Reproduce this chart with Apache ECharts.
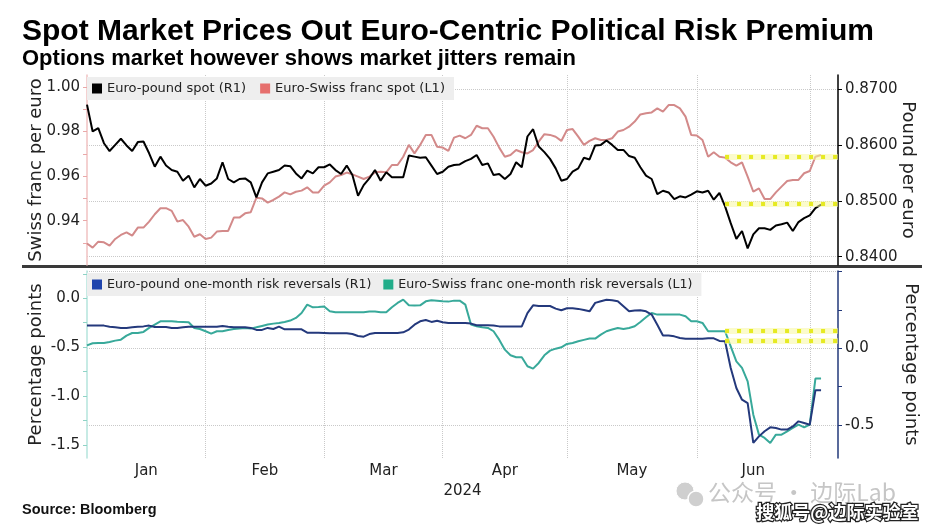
<!DOCTYPE html>
<html><head><meta charset="utf-8">
<script src="https://cdn.jsdelivr.net/npm/echarts@6/dist/echarts.min.js"></script>
<style>html,body{margin:0;padding:0;background:#fff}#c{width:936px;height:532px}</style>
</head><body><div id="c"></div>
<script>
// ---------- data ----------
const startDate = '2024-01-03';
const endDate = '2024-07-08';
const monthLabels = ['Jan','Feb','Mar','Apr','May','Jun'];
const yearLabel = '2024';

// Euro-pound spot (right axis, top panel)
const eurGbpSpot = [0.8672,0.8624,0.8630,0.8603,0.8589,0.8600,0.8611,0.8599,0.8589,0.8605,
 0.8606,0.8585,0.8561,0.8579,0.8563,0.8555,0.8552,0.8536,0.8545,0.8524,
 0.8539,0.8527,0.8531,0.8540,0.8569,0.8539,0.8533,0.8539,0.8540,0.8533,
 0.8506,0.8533,0.8549,0.8552,0.8555,0.8563,0.8562,0.8549,0.8540,0.8554,
 0.8549,0.8560,0.8560,0.8565,0.8555,0.8548,0.8563,0.8546,0.8509,0.8528,
 0.8540,0.8555,0.8536,0.8551,0.8542,0.8542,0.8542,0.8581,0.8579,0.8577,
 0.8578,0.8563,0.8548,0.8552,0.8561,0.8564,0.8565,0.8571,0.8575,0.8582,
 0.8564,0.8567,0.8546,0.8548,0.8539,0.8548,0.8569,0.8560,0.8615,0.8628,
 0.8597,0.8587,0.8575,0.8558,0.8536,0.8539,0.8552,0.8558,0.8577,0.8574,
 0.8599,0.8600,0.8608,0.8600,0.8591,0.8591,0.8580,0.8577,0.8560,0.8545,
 0.8539,0.8512,0.8518,0.8515,0.8503,0.8508,0.8506,0.8511,0.8517,0.8515,
 0.8518,0.8502,0.8514,0.8490,0.8460,0.8432,0.8446,0.8415,0.8440,0.8451,
 0.8451,0.8448,0.8456,0.8458,0.8461,0.8446,0.8462,0.8469,0.8474,0.8487,
 0.8493];

// Euro-Swiss franc spot (left axis, top panel)
const eurChfSpot = [0.9298,0.9279,0.9306,0.9303,0.9288,0.9318,0.9336,0.9348,0.9333,0.9369,
 0.9369,0.9396,0.9429,0.9456,0.9456,0.9444,0.9396,0.9403,0.9373,0.9328,
 0.9339,0.9318,0.9324,0.9351,0.9354,0.9354,0.9414,0.9414,0.9433,0.9438,
 0.9503,0.9500,0.9481,0.9493,0.9508,0.9527,0.9518,0.9530,0.9535,0.9550,
 0.9527,0.9527,0.9557,0.9572,0.9598,0.9605,0.9616,0.9608,0.9598,0.9587,
 0.9598,0.9617,0.9620,0.9617,0.9650,0.9650,0.9687,0.9740,0.9702,0.9740,
 0.9785,0.9785,0.9732,0.9728,0.9713,0.9773,0.9782,0.9770,0.9785,0.9826,
 0.9815,0.9815,0.9777,0.9728,0.9687,0.9695,0.9717,0.9707,0.9702,0.9717,
 0.9755,0.9788,0.9785,0.9777,0.9758,0.9807,0.9811,0.9777,0.9740,0.9758,
 0.9770,0.9762,0.9762,0.9770,0.9800,0.9807,0.9822,0.9845,0.9877,0.9882,
 0.9886,0.9904,0.9889,0.9919,0.9919,0.9904,0.9867,0.9785,0.9782,0.9762,
 0.9687,0.9707,0.9687,0.9683,0.9662,0.9647,0.9662,0.9598,0.9530,0.9545,
 0.9497,0.9497,0.9527,0.9553,0.9578,0.9583,0.9583,0.9613,0.9623,0.9687,
 0.9695];

// Euro-pound one-month risk reversals (right axis, bottom panel)
const eurGbpRR = [0.148,0.148,0.148,0.148,0.141,0.137,0.133,0.133,0.137,0.141,
 0.143,0.148,0.139,0.139,0.139,0.133,0.133,0.137,0.141,0.141,
 0.141,0.141,0.141,0.141,0.146,0.141,0.137,0.137,0.137,0.133,
 0.120,0.120,0.133,0.126,0.141,0.124,0.124,0.124,0.124,0.102,
 0.102,0.102,0.100,0.098,0.098,0.098,0.098,0.093,0.080,0.076,
 0.093,0.100,0.100,0.100,0.100,0.100,0.104,0.122,0.154,0.176,
 0.185,0.172,0.180,0.170,0.165,0.165,0.165,0.165,0.161,0.150,
 0.150,0.150,0.148,0.143,0.143,0.143,0.143,0.143,0.230,0.280,
 0.276,0.276,0.276,0.259,0.248,0.261,0.261,0.257,0.250,0.241,
 0.296,0.307,0.317,0.313,0.307,0.274,0.241,0.246,0.248,0.241,
 0.220,0.154,0.083,0.083,0.078,0.067,0.063,0.063,0.063,0.063,
 0.065,0.065,0.048,0.046,-0.128,-0.259,-0.335,-0.357,-0.617,-0.574,
 -0.541,-0.515,-0.520,-0.530,-0.530,-0.509,-0.476,-0.487,-0.498,-0.274,
 -0.274];

// Euro-Swiss franc one-month risk reversals (left axis, bottom panel)
const eurChfRR = [-0.481,-0.460,-0.457,-0.457,-0.447,-0.433,-0.423,-0.382,-0.355,-0.355,
 -0.344,-0.303,-0.269,-0.235,-0.235,-0.235,-0.239,-0.242,-0.245,-0.303,
 -0.314,-0.337,-0.361,-0.337,-0.337,-0.324,-0.314,-0.310,-0.303,-0.310,
 -0.297,-0.283,-0.269,-0.259,-0.252,-0.242,-0.228,-0.201,-0.150,-0.065,
 -0.092,-0.089,-0.085,-0.133,-0.143,-0.143,-0.143,-0.143,-0.143,-0.143,
 -0.136,-0.136,-0.143,-0.143,-0.092,-0.048,-0.014,-0.072,-0.075,-0.072,
 -0.031,-0.020,-0.024,-0.031,-0.034,-0.024,-0.024,-0.065,-0.269,-0.286,
 -0.297,-0.303,-0.337,-0.423,-0.525,-0.583,-0.603,-0.603,-0.695,-0.719,
 -0.661,-0.583,-0.535,-0.515,-0.501,-0.467,-0.457,-0.440,-0.425,-0.412,
 -0.412,-0.372,-0.337,-0.320,-0.303,-0.314,-0.303,-0.286,-0.242,-0.194,
 -0.150,-0.167,-0.167,-0.167,-0.167,-0.167,-0.184,-0.235,-0.235,-0.252,
 -0.337,-0.337,-0.337,-0.337,-0.491,-0.644,-0.712,-0.849,-1.190,-1.394,
 -1.428,-1.479,-1.394,-1.394,-1.360,-1.326,-1.292,-1.319,-1.292,-0.821,
 -0.821];

// yellow reference levels (start date of the annotation, level values)
const markStart = '2024-06-10';
const spotMarkLevels = { chf: 0.9687, gbp: 0.8494 };
const rrMarkLevels = { chf: -0.334, gbp: 0.048 };

// tick values / tick labels
const topLeftLabels = [0.94, 0.96, 0.98, 1.00];
const topLeftTicks = [0.93, 0.94, 0.95, 0.96, 0.97, 0.98, 0.99, 1.00];
const topRightLabels = [0.84, 0.85, 0.86, 0.87];
const botLeftLabels = [0, -0.5, -1.0, -1.5];
const botLeftTicks = [0.25, 0, -0.25, -0.5, -0.75, -1.0, -1.25, -1.5];
const botRightLabels = [0, -0.5];
const botRightTicks = [0.5, 0.25, 0, -0.25, -0.5];
const botRightGrid = [0.5, 0, -0.5];

// ---------- categories (weekdays) ----------
const dates = [];
(function () {
  let d = new Date(startDate + 'T00:00:00Z');
  const end = new Date(endDate + 'T00:00:00Z');
  while (d <= end) {
    const wd = d.getUTCDay();
    if (wd !== 0 && wd !== 6) dates.push(d.toISOString().slice(0, 10));
    d = new Date(d.getTime() + 86400000);
  }
})();
const monthStart = [0];
for (let i = 1; i < dates.length; i++) {
  if (dates[i].slice(0, 7) !== dates[i - 1].slice(0, 7)) monthStart.push(i);
}
const labelPos = monthLabels.map((m, k) => (monthStart[k] + monthStart[k + 1]) / 2);
const isMonthStart = (idx) => idx > 0 && monthStart.indexOf(idx) >= 0;

const FONT = 'DejaVu Sans';
const gridLine = { show: true, lineStyle: { color: '#c9c9c9', type: 'dotted', width: 1 } };

function yAx(o) {
  return Object.assign({
    type: 'value', scale: true,
    nameLocation: 'middle', nameMoveOverlap: false,
    nameTextStyle: { fontSize: 18, color: '#222', fontFamily: FONT },
    axisLabel: { fontSize: 15, color: '#222', fontFamily: FONT, margin: 7 },
    splitLine: { show: false }
  }, o);
}

function mk(level) {
  const end = dates[dates.length - 1];
  return {
    silent: true, symbol: ['none', 'none'], label: { show: false }, animation: false,
    data: [
      [{ coord: [markStart, level], lineStyle: { color: 'rgba(247,247,160,0.55)', width: 6, type: 'solid' } }, { coord: [end, level] }],
      [{ coord: [markStart, level], lineStyle: { color: '#e6ea22', width: 4, type: [4, 8] } }, { coord: [end, level] }]
    ]
  };
}

const option = {
  animation: false,
  backgroundColor: '#ffffff',
  title: {
    left: 22, top: 17, padding: 0, itemGap: 1,
    text: 'Spot Market Prices Out Euro-Centric Political Risk Premium',
    subtext: 'Options market however shows market jitters remain',
    textStyle: { fontFamily: 'Liberation Sans', fontWeight: 'bold', fontSize: 30, color: '#000' },
    subtextStyle: { fontFamily: 'Liberation Sans', fontWeight: 'bold', fontSize: 22, color: '#000' }
  },
  grid: [
    { left: 87, width: 751, top: 75, height: 190 },
    { left: 87, width: 751, top: 271, height: 187 }
  ],
  legend: [
    {
      left: 87, top: 77, padding: [5, 9, 5, 5], itemGap: 14, itemWidth: 10, itemHeight: 10,
      icon: 'rect', backgroundColor: '#eeeeee',
      itemStyle: { borderWidth: 0 },
      textStyle: { fontSize: 13, color: '#222', fontFamily: FONT },
      data: [
        { name: 'Euro-pound spot (R1)', itemStyle: { color: '#000000' } },
        { name: 'Euro-Swiss franc spot (L1)', itemStyle: { color: '#e66f6d' } }
      ]
    },
    {
      left: 87, top: 273, padding: [5, 9, 5, 5], itemGap: 12, itemWidth: 10, itemHeight: 10,
      icon: 'rect', backgroundColor: '#eeeeee',
      itemStyle: { borderWidth: 0 },
      textStyle: { fontSize: 12.6, color: '#222', fontFamily: FONT },
      data: [
        { name: 'Euro-pound one-month risk reversals (R1)', itemStyle: { color: '#1f44ad' } },
        { name: 'Euro-Swiss franc one-month risk reversals (L1)', itemStyle: { color: '#22ad8a' } }
      ]
    }
  ],
  xAxis: [
    { gridIndex: 0, type: 'category', data: dates, boundaryGap: false,
      axisLine: { show: false }, axisTick: { show: false }, axisLabel: { show: false },
      splitLine: Object.assign({ interval: (i) => isMonthStart(i) }, gridLine) },
    { gridIndex: 1, type: 'category', data: dates, boundaryGap: false,
      axisLine: { show: false }, axisTick: { show: false }, axisLabel: { show: false },
      splitLine: Object.assign({ interval: (i) => isMonthStart(i) }, gridLine) },
    { gridIndex: 1, type: 'value', position: 'bottom', min: 0, max: dates.length - 1,
      axisLine: { show: false }, axisTick: { show: false }, splitLine: { show: false },
      name: yearLabel, nameLocation: 'middle', nameGap: 26, nameMoveOverlap: false,
      nameTextStyle: { fontSize: 15, color: '#222', fontFamily: FONT },
      axisLabel: { customValues: labelPos, fontSize: 15, color: '#222', fontFamily: FONT, margin: 6,
        formatter: (v) => { const k = labelPos.findIndex(p => Math.abs(p - v) < 1e-6); return k >= 0 ? monthLabels[k] : ''; } } }
  ],
  yAxis: [
    yAx({ gridIndex: 0, position: 'left', min: 0.92012, max: 1.00538,
      name: 'Swiss franc per euro', nameGap: 42,
      axisLine: { show: true, lineStyle: { color: '#f0c2c2', width: 1.5 } },
      axisTick: { show: true, length: 4, customValues: topLeftTicks, lineStyle: { color: '#e9a9a9' } },
      axisLabel: { customValues: topLeftLabels, formatter: v => v.toFixed(2), fontSize: 15, color: '#222', fontFamily: FONT, margin: 7 } }),
    yAx({ gridIndex: 0, position: 'right', min: 0.83852, max: 0.8725,
      name: 'Pound per euro', nameGap: 61, nameRotate: -90,
      axisLine: { show: true, lineStyle: { color: '#000', width: 1.5 } },
      axisTick: { show: true, length: 4, customValues: topRightLabels, lineStyle: { color: '#000' } },
      axisLabel: { customValues: topRightLabels, formatter: v => v.toFixed(4), fontSize: 15, color: '#222', fontFamily: FONT, margin: 7 },
      splitLine: gridLine }),
    yAx({ gridIndex: 1, position: 'left', min: -1.633, max: 0.279,
      name: 'Percentage points', nameGap: 42,
      axisLine: { show: true, lineStyle: { color: '#b4e4dc', width: 1.5 } },
      axisTick: { show: true, length: 4, customValues: botLeftTicks, lineStyle: { color: '#8fd3c6' } },
      axisLabel: { customValues: botLeftLabels, formatter: v => v.toFixed(1), fontSize: 15, color: '#222', fontFamily: FONT, margin: 7 } }),
    yAx({ gridIndex: 1, position: 'right', min: -0.715, max: 0.504,
      name: 'Percentage points', nameGap: 64, nameRotate: -90,
      axisLine: { show: true, lineStyle: { color: '#22387a', width: 1.5 } },
      axisTick: { show: true, length: 4, customValues: botRightTicks, lineStyle: { color: '#22387a' } },
      axisLabel: { customValues: botRightLabels, formatter: v => v.toFixed(1), fontSize: 15, color: '#222', fontFamily: FONT, margin: 7 } }),
    yAx({ gridIndex: 1, position: 'right', min: -0.715, max: 0.504,
      axisLine: { show: false },
      axisTick: { show: false, customValues: botRightGrid },
      axisLabel: { show: false, customValues: botRightGrid },
      splitLine: gridLine })
  ],
  series: [
    { name: 'Euro-Swiss franc spot (L1)', type: 'line', xAxisIndex: 0, yAxisIndex: 0,
      data: eurChfSpot, symbol: 'none', itemStyle: { color: '#e66f6d' },
      lineStyle: { color: '#d38a8a', width: 2 },
      markLine: mk(spotMarkLevels.chf) },
    { name: 'Euro-pound spot (R1)', type: 'line', xAxisIndex: 0, yAxisIndex: 1,
      data: eurGbpSpot, symbol: 'none', itemStyle: { color: '#000' },
      lineStyle: { color: '#000', width: 2 },
      markLine: mk(spotMarkLevels.gbp) },
    { name: 'Euro-Swiss franc one-month risk reversals (L1)', type: 'line', xAxisIndex: 1, yAxisIndex: 2,
      data: eurChfRR, symbol: 'none', itemStyle: { color: '#22ad8a' },
      lineStyle: { color: '#38a99a', width: 2 },
      markLine: mk(rrMarkLevels.chf) },
    { name: 'Euro-pound one-month risk reversals (R1)', type: 'line', xAxisIndex: 1, yAxisIndex: 3,
      data: eurGbpRR, symbol: 'none', itemStyle: { color: '#1f44ad' },
      lineStyle: { color: '#24397c', width: 2 },
      markLine: mk(rrMarkLevels.gbp) }
  ],
  graphic: [
    { type: 'rect', shape: { x: 22, y: 265, width: 900, height: 3 }, style: { fill: '#3a3a3a' }, silent: true },
    { type: 'text', left: 22, top: 502, style: { text: 'Source: Bloomberg', font: 'bold 14.5px "Liberation Sans"', fill: '#111' } },
    { type: 'circle', shape: { cx: 685, cy: 491, r: 9 }, style: { fill: '#cfcfcf', stroke: '#fff', lineWidth: 1 } },
    { type: 'circle', shape: { cx: 696, cy: 499, r: 8 }, style: { fill: '#cfcfcf', stroke: '#fff', lineWidth: 1.5 } },
    { type: 'text', left: 708, top: 481, style: { text: '公众号 · 边际Lab', font: '23px "Noto Sans CJK SC"', fill: '#c6c6c6' } },
    { type: 'text', left: 755, top: 502, style: { text: '搜狐号@边际实验室', font: 'bold 18px "Noto Sans CJK SC"', fill: '#ffffff', stroke: '#222', lineWidth: 2.5 } }
  ]
};

const chart = echarts.init(document.getElementById('c'));
chart.setOption(option);
</script>
</body></html>
